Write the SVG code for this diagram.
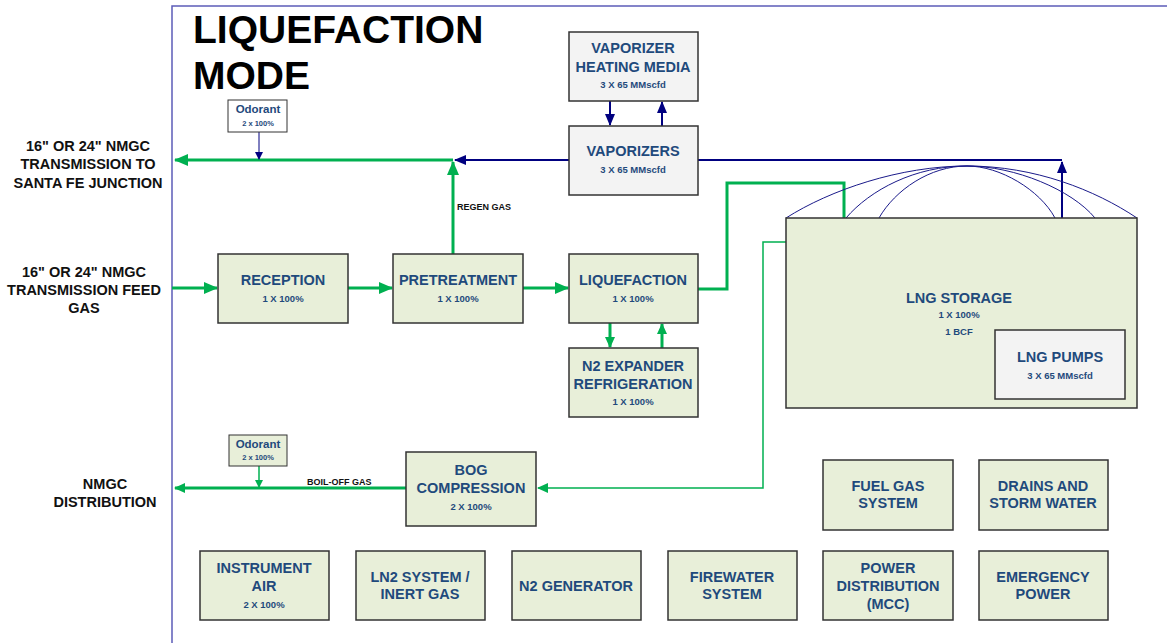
<svg xmlns="http://www.w3.org/2000/svg" width="1167" height="643" viewBox="0 0 1167 643">
<style>
.bx{fill:#e8efd9;stroke:#333;stroke-width:1.5}
.bw{fill:#f3f3f3;stroke:#333;stroke-width:1.5}
.t{font-family:"Liberation Sans",Arial,sans-serif;font-weight:bold;fill:#1f4a7c;text-anchor:middle}
.m{font-size:14.5px}
.s{font-size:9.5px}
.k{font-family:"Liberation Sans",Arial,sans-serif;font-weight:bold;fill:#111;text-anchor:middle;font-size:14.5px}
.g{fill:none;stroke:#00b050;stroke-width:3}
.g1{fill:none;stroke:#00b050;stroke-width:1.5}
.b{fill:none;stroke:#000080;stroke-width:2}
.b1{fill:none;stroke:#000080;stroke-width:1}
.dome{fill:none;stroke:#1a1a8a;stroke-width:1}
</style>
<defs>
<marker id="ag" markerUnits="userSpaceOnUse" markerWidth="14" markerHeight="12" refX="13" refY="6" orient="auto"><path d="M0,0 L14,6 L0,12 Z" fill="#00b050"/></marker>
<marker id="ag1" markerUnits="userSpaceOnUse" markerWidth="11" markerHeight="10" refX="10" refY="5" orient="auto"><path d="M0,0 L11,5 L0,10 Z" fill="#00b050"/></marker>
<marker id="ags" markerUnits="userSpaceOnUse" markerWidth="8" markerHeight="8" refX="7" refY="4" orient="auto"><path d="M0,0 L8,4 L0,8 Z" fill="#00b050"/></marker>
<marker id="ab" markerUnits="userSpaceOnUse" markerWidth="12" markerHeight="10" refX="11" refY="5" orient="auto"><path d="M0,0 L12,5 L0,10 Z" fill="#000080"/></marker>
<marker id="abs" markerUnits="userSpaceOnUse" markerWidth="8" markerHeight="8" refX="7" refY="4" orient="auto"><path d="M0,0 L8,4 L0,8 Z" fill="#000080"/></marker>
</defs>
<rect width="1167" height="643" fill="#ffffff"/>
<rect x="172" y="6" width="1010" height="700" fill="none" stroke="#5c5cb8" stroke-width="1.5"/>
<g id="title" font-family="'Liberation Sans',Arial,sans-serif" font-weight="bold" font-size="39" fill="#000">
<text x="193" y="43">LIQUEFACTION</text>
<text x="193" y="89">MODE</text>
</g>
<g id="labels">
<text class="k"><tspan x="88" y="151">16" OR 24" NMGC</tspan><tspan x="88" y="169">TRANSMISSION TO</tspan><tspan x="88" y="188">SANTA FE JUNCTION</tspan></text>
<text class="k"><tspan x="84" y="277">16" OR 24" NMGC</tspan><tspan x="84" y="295">TRANSMISSION FEED</tspan><tspan x="84" y="313">GAS</tspan></text>
<text class="k"><tspan x="105" y="489">NMGC</tspan><tspan x="105" y="507">DISTRIBUTION</tspan></text>
<text x="457" y="210" font-family="'Liberation Sans',Arial,sans-serif" font-weight="bold" font-size="9" fill="#111">REGEN GAS</text>
<text x="307" y="485" font-family="'Liberation Sans',Arial,sans-serif" font-weight="bold" font-size="9" fill="#111">BOIL-OFF GAS</text>
</g>
<g id="connectors">
<path class="g" d="M453,160 L175,160" marker-end="url(#ag)"/>
<path class="b" d="M569,160 L455,160" marker-end="url(#ab)"/>
<path class="g" d="M453,254 L453,162" marker-end="url(#ag)"/>
<path class="b1" d="M259,132 L259,159" marker-end="url(#abs)"/>
<path class="b" d="M610,101 L610,125" marker-end="url(#ab)"/>
<path class="b" d="M662,126 L662,102" marker-end="url(#ab)"/>
<path class="b" d="M698,160 L1062,160"/>
<path class="b" d="M1062,330 L1062,162" marker-end="url(#ab)"/>
<path class="g" d="M172,288 L217,288" marker-end="url(#ag)"/>
<path class="g" d="M348,288 L392,288" marker-end="url(#ag)"/>
<path class="g" d="M523,288 L568,288" marker-end="url(#ag)"/>
<path class="g" d="M610,323 L610,347" marker-end="url(#ag1)"/>
<path class="g" d="M662,348 L662,324" marker-end="url(#ag1)"/>
<path class="g" d="M698,289 L727,289 L727,183 L844,183 L844,386" marker-end="url(#ag)"/>
<path class="g1" d="M810,242 L763,242 L763,488 L538,488" marker-end="url(#ag1)"/>
<path class="g" d="M406,488 L175,488" stroke-width="2" marker-end="url(#ag1)"/>
<path class="g1" d="M259,466 L259,487" stroke-width="1" marker-end="url(#ags)"/>
</g>
<g id="dome">
<path class="dome" d="M786,218 C830,190 900,166 967,166 C1035,166 1095,190 1137,218"/>
<path class="dome" d="M846,218 C870,190 915,166 967,166 C1015,166 1072,190 1095,218"/>
<path class="dome" d="M879,218 C895,190 930,166 967,166 C1000,166 1040,190 1055,218"/>
</g>
<g id="odorant1"><rect x="228" y="100" width="59" height="32" fill="#fff" stroke="#333" stroke-width="1"/><text class="t" x="258" y="113" font-size="11.5" font-weight="normal">Odorant</text><text class="t" x="258" y="126" font-size="7.5">2 x 100%</text></g>
<g id="heating"><rect class="bw" x="569" y="32" width="129" height="69"/><text class="t m"><tspan x="633" y="53">VAPORIZER</tspan><tspan x="633" y="72">HEATING MEDIA</tspan></text><text class="t s" x="633" y="88">3 X 65 MMscfd</text></g>
<g id="vaporizers"><rect class="bw" x="569" y="126" width="129" height="69"/><text class="t m" x="633" y="156">VAPORIZERS</text><text class="t s" x="633" y="173">3 X 65 MMscfd</text></g>
<g id="reception"><rect class="bx" x="218" y="254" width="130" height="69"/><text class="t m" x="283" y="285">RECEPTION</text><text class="t s" x="283" y="302">1 X 100%</text></g>
<g id="pretreatment"><rect class="bx" x="393" y="254" width="130" height="69"/><text class="t m" x="458" y="285">PRETREATMENT</text><text class="t s" x="458" y="302">1 X 100%</text></g>
<g id="liquefaction"><rect class="bx" x="569" y="254" width="129" height="69"/><text class="t m" x="633" y="285">LIQUEFACTION</text><text class="t s" x="633" y="302">1 X 100%</text></g>
<g id="n2exp"><rect class="bx" x="569" y="348" width="129" height="69"/><text class="t m"><tspan x="633" y="371">N2 EXPANDER</tspan><tspan x="633" y="389">REFRIGERATION</tspan></text><text class="t s" x="633" y="405">1 X 100%</text></g>
<g id="storage"><rect class="bx" x="786" y="218" width="351" height="190"/><text class="t m" x="959" y="303">LNG STORAGE</text><text class="t s" x="959" y="318">1 X 100%</text><text class="t s" x="959" y="335">1 BCF</text></g>
<g id="pumps"><rect class="bw" x="995" y="330" width="130" height="69"/><text class="t m" x="1060" y="362">LNG PUMPS</text><text class="t s" x="1060" y="379">3 X 65 MMscfd</text></g>
<g id="odorant2"><rect fill="#e8efd9" stroke="#333" stroke-width="1" x="229" y="435" width="58" height="31"/><text class="t" x="258" y="448" font-size="11.5" font-weight="normal">Odorant</text><text class="t" x="258" y="460" font-size="7.5">2 x 100%</text></g>
<g id="bog"><rect class="bx" x="406" y="452" width="130" height="74"/><text class="t m"><tspan x="471" y="475">BOG</tspan><tspan x="471" y="493">COMPRESSION</tspan></text><text class="t s" x="471" y="510">2 X 100%</text></g>
<g id="fuelgas"><rect class="bx" x="823" y="460" width="130" height="70"/><text class="t m"><tspan x="888" y="491">FUEL GAS</tspan><tspan x="888" y="508">SYSTEM</tspan></text></g>
<g id="drains"><rect class="bx" x="979" y="460" width="129" height="70"/><text class="t m"><tspan x="1043" y="491">DRAINS AND</tspan><tspan x="1043" y="508">STORM WATER</tspan></text></g>
<g id="instair"><rect class="bx" x="200" y="551" width="129" height="69"/><text class="t m"><tspan x="264" y="573">INSTRUMENT</tspan><tspan x="264" y="591">AIR</tspan></text><text class="t s" x="264" y="608">2 X 100%</text></g>
<g id="ln2"><rect class="bx" x="356" y="551" width="129" height="69"/><text class="t m"><tspan x="420" y="582">LN2 SYSTEM /</tspan><tspan x="420" y="599">INERT GAS</tspan></text></g>
<g id="n2gen"><rect class="bx" x="512" y="551" width="129" height="69"/><text class="t m" x="576" y="591">N2 GENERATOR</text></g>
<g id="firewater"><rect class="bx" x="668" y="551" width="129" height="69"/><text class="t m"><tspan x="732" y="582">FIREWATER</tspan><tspan x="732" y="599">SYSTEM</tspan></text></g>
<g id="power"><rect class="bx" x="823" y="551" width="130" height="69"/><text class="t m"><tspan x="888" y="573">POWER</tspan><tspan x="888" y="591">DISTRIBUTION</tspan><tspan x="888" y="609">(MCC)</tspan></text></g>
<g id="emergency"><rect class="bx" x="979" y="551" width="129" height="69"/><text class="t m"><tspan x="1043" y="582">EMERGENCY</tspan><tspan x="1043" y="599">POWER</tspan></text></g>
</svg>
